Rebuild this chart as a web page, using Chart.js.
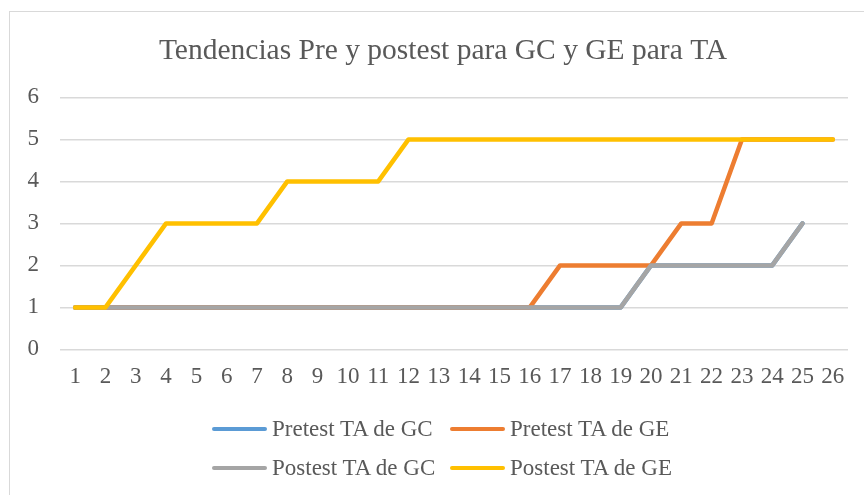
<!DOCTYPE html>
<html>
<head>
<meta charset="utf-8">
<script src="https://cdn.jsdelivr.net/npm/chart.js@4/dist/chart.umd.min.js"></script>
<style>
	html, body { margin: 0; padding: 0; background: #fff; overflow: hidden; }
	#wrap { position: relative; width: 864px; height: 495px; }
	#frame { position: absolute; left: 9px; top: 11px; width: 900px; height: 540px; border: 1.5px solid #d9d9d9; box-sizing: border-box; }
	canvas { position: absolute; left: 0; top: 0; }
	#legend { position: absolute; left: 212px; top: 409px; font-family: 'Liberation Serif', 'Times New Roman', serif; font-size: 23px; color: #595959; }
	.row { display: flex; height: 39px; align-items: center; }
	.item { display: flex; align-items: center; width: 238px; white-space: nowrap; }
	.swatch { display: inline-block; width: 55px; height: 4px; border-radius: 2px; margin-right: 5px; }
</style>
</head>
<body>
<div id="wrap">
	<div id="frame"></div>
	<canvas id="chart" width="864" height="495"></canvas>
	<div id="legend"></div>
</div>
<script>
var labels = ['1', '2', '3', '4', '5', '6', '7', '8', '9', '10', '11', '12', '13', '14', '15', '16', '17', '18', '19', '20', '21', '22', '23', '24', '25', '26']
var pretestGC = [1, 1, 1, 1, 1, 1, 1, 1, 1, 1, 1, 1, 1, 1, 1, 1, 1, 1, 1, 2, 2, 2, 2, 2, 3, null]
var pretestGE = [1, 1, 1, 1, 1, 1, 1, 1, 1, 1, 1, 1, 1, 1, 1, 1, 2, 2, 2, 2, 3, 3, 5, 5, 5, 5]
var postestGC = [1, 1, 1, 1, 1, 1, 1, 1, 1, 1, 1, 1, 1, 1, 1, 1, 1, 1, 1, 2, 2, 2, 2, 2, 3, null]
var postestGE = [1, 1, 2, 3, 3, 3, 3, 4, 4, 4, 4, 5, 5, 5, 5, 5, 5, 5, 5, 5, 5, 5, 5, 5, 5, 5]
var yTicks = [0, 1, 2, 3, 4, 5, 6]

var seriesNames = ['Pretest TA de GC', 'Pretest TA de GE', 'Postest TA de GC', 'Postest TA de GE']
var seriesColors = ['#5B9BD5', '#ED7D31', '#A5A5A5', '#FFC000']
var seriesData = [pretestGC, pretestGE, postestGC, postestGE]

var font = "'Liberation Serif', 'Times New Roman', serif"
var textColor = '#595959'

var datasets = seriesData.map(function(d, i) {
	return {
		label: seriesNames[i],
		data: d,
		borderColor: seriesColors[i],
		backgroundColor: seriesColors[i],
		borderWidth: 4.5,
		borderCapStyle: 'round',
		borderJoinStyle: 'round',
		pointRadius: 0,
		tension: 0,
		order: 4 - i
	}
})

// nudge the title a little to the right, as in the original
var titleShift = {
	id: 'titleShift',
	afterLayout: function(chart) {
		if (chart.titleBlock) {
			chart.titleBlock.left += 6
			chart.titleBlock.right += 6
		}
	}
}

var ctx = document.getElementById('chart')
var chart = new Chart(ctx, {
	type: 'line',
	data: {
		labels: labels,
		datasets: datasets
	},
	plugins: [titleShift],
	options: {
		responsive: false,
		animation: false,
		layout: {
			padding: { left: 26, right: 16, top: 0, bottom: 90 }
		},
		plugins: {
			legend: { display: false },
			tooltip: { enabled: false },
			title: {
				display: true,
				text: 'Tendencias Pre y postest para GC y GE para TA',
				color: textColor,
				font: { family: font, size: 29.5, weight: 'normal' },
				padding: { top: 34, bottom: 28 }
			}
		},
		scales: {
			x: {
				offset: true,
				grid: { display: false, drawTicks: false },
				border: { display: false },
				ticks: {
					color: textColor,
					font: { family: font, size: 23 },
					padding: 14,
					maxRotation: 0,
					autoSkip: false
				}
			},
			y: {
				min: 0,
				max: 6,
				afterBuildTicks: function(axis) {
					axis.ticks = yTicks.map(function(v) { return { value: v } })
				},
				afterFit: function(axis) {
					axis.width = 34
				},
				grid: { color: '#D9D9D9', lineWidth: 1.5, drawTicks: false },
				border: { display: false },
				ticks: {
					color: textColor,
					font: { family: font, size: 23 },
					padding: 21
				}
			}
		}
	}
})

// legend in two rows, like the original
var legend = document.getElementById('legend')
for (var r = 0; r < 2; r++) {
	var row = document.createElement('div')
	row.className = 'row'
	for (var c = 0; c < 2; c++) {
		var i = r * 2 + c
		var item = document.createElement('div')
		item.className = 'item'
		var sw = document.createElement('span')
		sw.className = 'swatch'
		sw.style.background = seriesColors[i]
		item.appendChild(sw)
		item.appendChild(document.createTextNode(seriesNames[i]))
		row.appendChild(item)
	}
	legend.appendChild(row)
}
</script>
</body>
</html>
